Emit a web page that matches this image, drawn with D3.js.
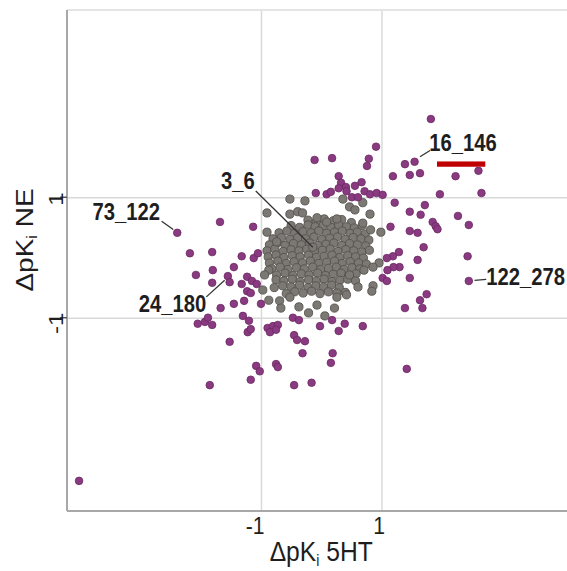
<!DOCTYPE html>
<html>
<head>
<meta charset="utf-8">
<script src="https://cdn.jsdelivr.net/npm/d3@7"></script>
<style>
  body { margin: 0; background: #fff; }
  text { font-family: "Liberation Sans", Arial, sans-serif; fill: #1e1e1e; }
</style>
</head>
<body>
<div id="chart"></div>
<script>
// tick values on both axes
var xTicks = [-1, 1]
var yTicks = [-1, 1]

// gray points (the bulk of pairs), [dpKi 5HT, dpKi NE]
var grayPoints = [
  [-0.22,0.62],[-0.08,0.60],[0.05,0.64],[0.20,0.61],[0.34,0.63],[0.50,0.58],
  [-0.50,0.53],[-0.36,0.50],[-0.22,0.54],[-0.10,0.51],[0.03,0.53],[0.16,0.50],[0.29,0.54],[0.42,0.51],[0.55,0.49],[0.68,0.53],
  [-0.70,0.41],[-0.57,0.44],[-0.44,0.40],[-0.30,0.43],[-0.17,0.41],[-0.04,0.44],[0.09,0.40],[0.22,0.42],[0.35,0.44],[0.48,0.40],[0.60,0.42],[0.73,0.39],
  [-0.80,0.31],[-0.66,0.33],[-0.52,0.30],[-0.39,0.33],[-0.26,0.31],[-0.12,0.34],[0.01,0.30],[0.14,0.32],[0.27,0.34],[0.40,0.30],[0.53,0.33],[0.66,0.31],[0.79,0.29],
  [-0.86,0.21],[-0.73,0.24],[-0.60,0.20],[-0.46,0.23],[-0.33,0.21],[-0.19,0.24],[-0.06,0.20],[0.08,0.22],[0.21,0.24],[0.34,0.20],[0.47,0.23],[0.60,0.21],[0.74,0.19],
  [-0.90,0.11],[-0.77,0.14],[-0.63,0.10],[-0.50,0.13],[-0.37,0.11],[-0.24,0.14],[-0.11,0.10],[0.02,0.12],[0.15,0.14],[0.28,0.10],[0.41,0.13],[0.54,0.11],[0.68,0.09],[0.80,0.12],
  [-0.88,0.01],[-0.75,0.04],[-0.62,0.00],[-0.48,0.03],[-0.35,0.01],[-0.21,0.04],[-0.08,0.00],[0.05,0.02],[0.18,0.04],[0.31,0.00],[0.44,0.03],[0.57,0.01],[0.70,-0.01],
  [-0.86,-0.09],[-0.72,-0.06],[-0.58,-0.10],[-0.45,-0.07],[-0.31,-0.09],[-0.18,-0.06],[-0.04,-0.10],[0.09,-0.08],[0.22,-0.06],[0.35,-0.10],[0.48,-0.07],[0.62,-0.09],[0.75,-0.11],
  [-0.82,-0.19],[-0.68,-0.16],[-0.55,-0.20],[-0.41,-0.17],[-0.28,-0.19],[-0.14,-0.16],[-0.01,-0.20],[0.12,-0.18],[0.25,-0.16],[0.38,-0.20],[0.51,-0.17],[0.64,-0.19],
  [-0.74,-0.29],[-0.60,-0.26],[-0.47,-0.30],[-0.33,-0.27],[-0.20,-0.29],[-0.06,-0.26],[0.07,-0.30],[0.20,-0.28],[0.33,-0.26],[0.46,-0.30],[0.58,-0.27],
  [-0.75,-0.37],[-0.62,-0.39],[-0.48,-0.36],[-0.35,-0.40],[-0.21,-0.37],[-0.08,-0.39],[0.05,-0.36],[0.18,-0.40],[0.31,-0.38],[0.44,-0.36],[0.57,-0.39],
  [-0.78,-0.50],[-0.64,-0.47],[-0.50,-0.49],[-0.36,-0.46],[-0.22,-0.50],[-0.09,-0.47],[0.04,-0.49],[0.17,-0.46],[0.30,-0.50],
  [-0.58,-0.60],[-0.44,-0.57],[-0.30,-0.59],[-0.16,-0.56],[-0.02,-0.60],[0.12,-0.57],[0.26,-0.59],[0.40,-0.58],
  [-0.52,0.97],[-0.27,0.94],[-0.90,0.74],[-0.52,0.72],[-0.39,0.76],[-0.31,0.74],[-0.07,0.66],[0.09,0.59],[0.26,0.64],
  [0.36,0.97],[0.47,0.84],[0.56,0.79],[0.69,0.91],[0.81,0.72],[0.99,0.42],[0.69,0.57],[0.82,0.46],
  [-0.90,0.42],[-0.74,0.26],[-0.87,-0.21],[-0.94,-0.29],[-0.97,-0.54],[-0.87,-0.71],[-0.69,-0.72],[-0.67,-0.84],[-0.52,-0.66],
  [-0.37,-0.82],[-0.21,-0.92],[-0.07,-0.79],[0.06,-0.97],[0.22,-0.84],[0.26,-0.66],[0.42,-0.62],[0.61,-0.49],[0.86,-0.47],
  [0.84,-0.56],[0.96,-0.09],[0.86,-0.16],[0.71,-0.21],[0.47,-0.29],[-0.14,0.17]
]

// purple points (outlying pairs)
var purplePoints = [
  [1.82,2.30],[0.91,1.84],[0.79,1.64],[0.76,1.52],[-0.11,1.62],[0.18,1.65],[1.39,1.55],[1.55,1.59],[1.19,1.35],[1.47,1.37],
  [1.64,1.40],[2.23,1.35],[2.61,1.44],[2.66,1.07],[1.97,1.05],[0.29,1.35],[0.33,1.24],[0.41,1.17],[0.56,1.19],[0.67,1.25],
  [0.29,1.15],[0.42,1.10],[0.72,1.10],[0.81,1.05],[0.92,1.07],[1.02,1.04],[-0.09,1.07],[0.09,1.05],[0.16,1.09],[0.51,1.00],
  [0.61,1.00],[1.22,0.91],[1.72,0.87],[1.47,0.76],[1.65,0.71],[1.85,0.59],[1.90,0.52],[1.93,0.47],[2.27,0.69],[2.45,0.54],
  [1.15,0.51],[1.47,0.44],[1.60,0.41],[1.70,0.17],[1.29,0.09],[1.19,0.02],[1.09,-0.01],[1.60,-0.04],[2.43,0.02],[1.30,-0.16],
  [1.20,-0.16],[1.10,-0.21],[1.02,-0.34],[1.09,-0.39],[1.47,-0.34],[2.45,-0.39],[1.75,-0.61],[1.64,-0.71],[1.68,-0.84],[1.39,-0.84],
  [1.42,-1.85],
  [-1.68,0.59],[-1.13,0.51],[-2.39,0.41],[-2.18,0.07],[-1.81,0.09],[-1.32,0.02],[-1.12,-0.01],[-1.05,0.07],[-1.45,-0.16],[-1.80,-0.21],
  [-2.08,-0.29],[-1.55,-0.31],[-1.52,-0.41],[-1.81,-0.42],[-1.23,-0.32],[-1.15,-0.39],[-1.07,-0.44],[-1.32,-0.44],[-1.23,-0.56],[-1.17,-0.59],
  [-1.67,-0.84],[-1.45,-0.77],[-1.28,-0.72],[-1.00,-0.77],[-2.05,-1.10],[-1.93,-1.07],[-1.88,-1.00],[-1.81,-1.12],[-1.30,-0.97],[-1.20,-1.05],
  [-1.22,-1.24],[-1.17,-1.19],[-0.89,-1.17],[-0.80,-1.14],[-0.72,-1.12],[-0.85,-1.24],[-0.75,-1.20],[-0.47,-1.00],[-0.37,-1.04],[-0.02,-1.14],
  [0.18,-1.04],[0.39,-1.10],[0.29,-1.22],[0.69,-1.14],[-1.52,-1.40],[-0.45,-1.29],[-0.40,-1.37],[-0.27,-1.39],[-0.31,-1.59],[0.19,-1.59],
  [0.16,-1.75],[-1.08,-1.80],[-1.02,-1.89],[-0.75,-1.77],[-0.72,-1.82],[-1.17,-2.03],[-1.85,-2.12],[-0.45,-2.12],[-0.16,-2.08],[-4.02,-3.71]
]

// labelled pairs
var labelNames = ["16_146", "3_6", "73_122", "24_180", "122_278"]
var labelX = [1.55, -0.14, -2.39, -1.52, 2.45]
var labelY = [1.59, 0.17, 0.41, -0.41, -0.39]

var width = 567
var height = 571
var sx = 0.88 // the figure is a bit squeezed horizontally

var svg = d3.select("#chart")
  .append("svg")
  .attr("width", width)
  .attr("height", height)

var x = d3.scaleLinear().domain([-4.22, 4.08]).range([67, 567])
var y = d3.scaleLinear().domain([-4.21, 4.11]).range([511, 10])

// grid lines
svg.append("g")
  .attr("transform", "translate(0,511)")
  .call(d3.axisBottom(x).tickValues(xTicks).tickSize(-(511 - 10)).tickFormat(""))
  .call(function(g) { g.select(".domain").remove() })
  .selectAll("line").attr("stroke", "#d9d9d9").attr("stroke-width", 1.5)

svg.append("g")
  .attr("transform", "translate(67,0)")
  .call(d3.axisLeft(y).tickValues(yTicks).tickSize(-(567 - 67)).tickFormat(""))
  .call(function(g) { g.select(".domain").remove() })
  .selectAll("line").attr("stroke", "#d9d9d9").attr("stroke-width", 1.5)

// frame
svg.append("line")
  .attr("x1", x.range()[0]).attr("x2", x.range()[1])
  .attr("y1", y.range()[1]).attr("y2", y.range()[1])
  .attr("stroke", "#e4e4e4").attr("stroke-width", 2)
svg.append("line")
  .attr("x1", x.range()[0]).attr("x2", x.range()[0])
  .attr("y1", y.range()[1]).attr("y2", y.range()[0])
  .attr("stroke", "#a8a8a8").attr("stroke-width", 2)
svg.append("line")
  .attr("x1", x.range()[0]).attr("x2", x.range()[1])
  .attr("y1", y.range()[0]).attr("y2", y.range()[0])
  .attr("stroke", "#a8a8a8").attr("stroke-width", 2)

// small ticks on the left axis only
svg.selectAll("yTickMarks")
  .data(yTicks)
  .enter()
  .append("line")
  .attr("x1", 60).attr("x2", 67)
  .attr("y1", function(d) { return y(d) }).attr("y2", function(d) { return y(d) })
  .attr("stroke", "#555").attr("stroke-width", 1.5)

// tick labels
svg.selectAll("xTickLabels")
  .data(xTicks)
  .enter()
  .append("text")
  .attr("transform", function(d) { return "translate(" + (x(d) + 3.5) + ",534) scale(" + sx + ",1)" })
  .attr("text-anchor", "end")
  .style("font-size", "24px")
  .text(function(d) { return d < 0 ? "-" + Math.abs(d) : d })

svg.selectAll("yTickLabels")
  .data(yTicks)
  .enter()
  .append("text")
  .attr("transform", function(d) { return "translate(63," + (y(d) - 5) + ") scale(" + sx + ",1) rotate(-90)" })
  .attr("text-anchor", "end")
  .style("font-size", "24px")
  .text(function(d) { return d < 0 ? "-" + Math.abs(d) : d })

// axis titles
var xTitle = svg.append("text")
  .attr("transform", "translate(" + x(0) + ",561) scale(" + sx + ",1)")
  .attr("text-anchor", "middle")
  .style("font-size", "28px")
xTitle.append("tspan").text("\u0394pK")
xTitle.append("tspan").attr("dy", 5).style("font-size", "16px").text("i")
xTitle.append("tspan").attr("dy", -5).text(" 5HT")

var yTitle = svg.append("text")
  .attr("transform", "translate(32.5,240) scale(" + sx + ",1) rotate(-90)")
  .attr("text-anchor", "middle")
  .style("font-size", "28px")
yTitle.append("tspan").text("\u0394pK")
yTitle.append("tspan").attr("dy", 5).style("font-size", "16px").text("i")
yTitle.append("tspan").attr("dy", -5).text(" NE")

// points
svg.selectAll("grayDots")
  .data(grayPoints)
  .enter()
  .append("circle")
  .attr("cx", function(d) { return x(d[0]) })
  .attr("cy", function(d) { return y(d[1]) })
  .attr("r", 4.1)
  .attr("fill", "#7c7873")
  .attr("stroke", "#55524e")
  .attr("stroke-width", 0.9)

svg.selectAll("purpleDots")
  .data(purplePoints)
  .enter()
  .append("circle")
  .attr("cx", function(d) { return x(d[0]) })
  .attr("cy", function(d) { return y(d[1]) })
  .attr("r", 3.8)
  .attr("fill", "#8a3a80")
  .attr("stroke", "#6b2862")
  .attr("stroke-width", 0.8)

// labels with leader lines (offsets in px from the point)
var labelLayout = [
  {anchor: "start", tx: 14.7, ty: -10.6, l: [5.4, -5, 15.4, -11.3]},
  {anchor: "end", tx: -58, ty: -58.7, l: [0, 0, -57, -56.3]},
  {anchor: "end", tx: -17.3, ty: -12.6, l: [-4, -3.3, -15.6, -11.6]},
  {anchor: "end", tx: -23.3, ty: 29.7, l: [-5, -2, -23.3, 14.7]},
  {anchor: "start", tx: 17.4, ty: 4.3, l: [5.7, -0.7, 17.4, -1.7]}
]

labelNames.forEach(function(name, i) {
  var px = x(labelX[i]), py = y(labelY[i]), lay = labelLayout[i]
  svg.append("line")
    .attr("x1", px + lay.l[0]).attr("y1", py + lay.l[1])
    .attr("x2", px + lay.l[2]).attr("y2", py + lay.l[3])
    .attr("stroke", "#333").attr("stroke-width", 1.3)
  svg.append("text")
    .attr("transform", "translate(" + (px + lay.tx) + "," + (py + lay.ty) + ") scale(" + sx + ",1)")
    .attr("text-anchor", lay.anchor)
    .style("font-size", "23px")
    .style("font-weight", "bold")
    .text(name)
  if (name == "16_146") {
    // red highlight bar under the label
    svg.append("rect")
      .attr("x", px + lay.tx + 7.7)
      .attr("y", py + lay.ty + 10.3)
      .attr("width", 48.3)
      .attr("height", 5.3)
      .attr("fill", "#c00000")
  }
})
</script>
</body>
</html>
